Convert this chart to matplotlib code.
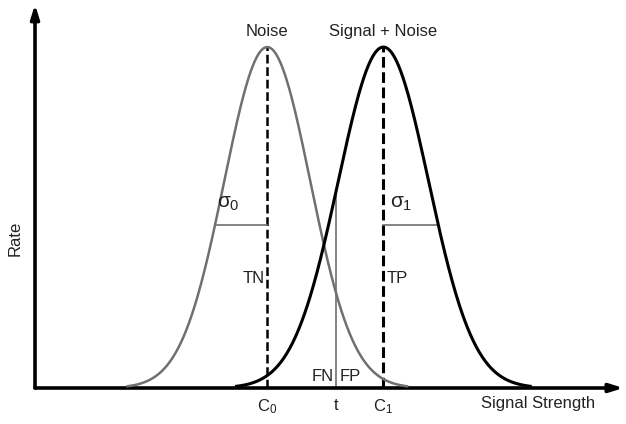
import numpy as np
import matplotlib.pyplot as plt

plt.rcParams['font.family'] = ['Liberation Sans', 'DejaVu Sans']
plt.rcParams['mathtext.fontset'] = 'custom'
plt.rcParams['mathtext.rm'] = 'Liberation Sans'
plt.rcParams['mathtext.it'] = 'Liberation Sans'

# Distribution parameters (signal-strength units)
c0 = 5.4        # noise mean
c1 = 8.1        # signal + noise mean
sigma0 = 1.0
sigma1 = 1.05
t_thr = 7.0     # decision threshold
peak = 1.0
span = 3.25     # how many sigmas the curves are drawn out to

def bell(x, mu, s):
    return peak * np.exp(-0.5 * ((x - mu) / s) ** 2)

fig = plt.figure(figsize=(6.26, 4.24), dpi=100)
ax = fig.add_axes([0, 0, 1, 1])
ax.set_xlim(-0.814, 13.74)
ax.set_ylim(-0.1056, 1.138)
ax.axis('off')

# axes with arrows
arw = dict(arrowstyle='-|>,head_length=0.8,head_width=0.25', color='black', lw=2.6,
           shrinkA=0, shrinkB=0)
ax.annotate('', xy=(13.68, 0), xytext=(0, 0), arrowprops=arw)
ax.annotate('', xy=(0, 1.125), xytext=(0, 0), arrowprops=arw)

# curves
x0 = np.linspace(c0 - span * sigma0, c0 + span * sigma0, 400)
x1 = np.linspace(c1 - span * sigma1, c1 + span * sigma1, 400)
ax.plot(x0, bell(x0, c0, sigma0), color='#707070', lw=1.8, zorder=3)
ax.plot(x1, bell(x1, c1, sigma1), color='black', lw=2.2, zorder=3)

# means
ax.plot([c0, c0], [0, peak], color='black', lw=1.8, ls=(0, (3.5, 1.5)), zorder=2)
ax.plot([c1, c1], [0, peak], color='black', lw=2.2, ls=(0, (3.5, 1.5)), zorder=2)

# widths
h = 0.478
w0 = sigma0 * np.sqrt(-2 * np.log(h / peak))
w1 = sigma1 * np.sqrt(-2 * np.log(h / peak))
ax.plot([c0 - w0, c0], [h, h], color='#707070', lw=1.2)
ax.plot([c1, c1 + w1], [h, h], color='#707070', lw=1.2)

# threshold
ax.plot([t_thr, t_thr], [0, bell(t_thr, c1, sigma1)], color='#707070', lw=1.2)

fs = 12
ax.text(c0, 1.045, 'Noise', ha='center', va='center', fontsize=fs, color='#222222')
ax.text(c1, 1.045, 'Signal + Noise', ha='center', va='center', fontsize=fs, color='#222222')
ax.text(c0 - 0.9, 0.54, r'$\sigma_0$', ha='center', va='center', fontsize=15, color='#222222')
ax.text(c1 + 0.42, 0.54, r'$\sigma_1$', ha='center', va='center', fontsize=15, color='#222222')
ax.text(c0 - 0.05, 0.32, 'TN', ha='right', va='center', fontsize=fs, color='#222222')
ax.text(c1 + 0.08, 0.32, 'TP', ha='left', va='center', fontsize=fs, color='#222222')
ax.text(t_thr - 0.06, 0.035, 'FN', ha='right', va='center', fontsize=fs, color='#222222')
ax.text(t_thr + 0.08, 0.035, 'FP', ha='left', va='center', fontsize=fs, color='#222222')
ax.text(c0, -0.055, r'C$_0$', ha='center', va='center', fontsize=fs, color='#222222')
ax.text(t_thr, -0.05, 't', ha='center', va='center', fontsize=fs, color='#222222')
ax.text(c1, -0.055, r'C$_1$', ha='center', va='center', fontsize=fs, color='#222222')
ax.text(11.7, -0.045, 'Signal Strength', ha='center', va='center', fontsize=fs, color='#222222')
ax.text(-0.47, 0.44, 'Rate', ha='center', va='center', rotation=90, fontsize=fs, color='#222222')

fig.savefig('out.png', dpi=100)
